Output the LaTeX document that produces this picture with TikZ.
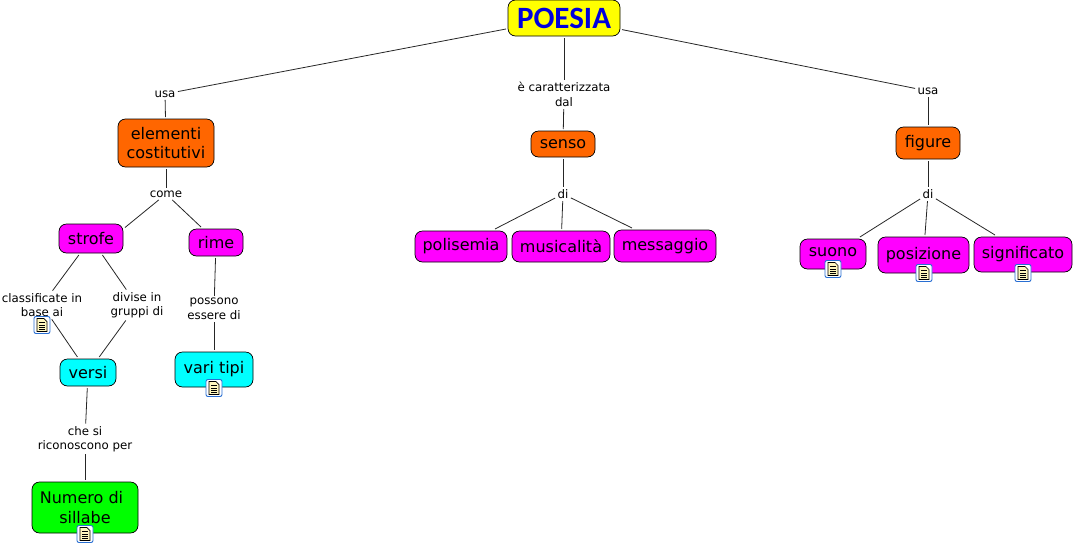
\documentclass[tikz,border=0pt]{standalone}
\usepackage{fontspec}
\setmainfont{DejaVu Sans}
\newfontfamily\titlefont{Carlito}
\usepackage{xcolor}
\usetikzlibrary{arrows.meta,calc,positioning,shapes.geometric}
\definecolor{magentabox}{RGB}{255,0,255}
\definecolor{orangebox}{RGB}{255,102,0}
\definecolor{cyanbox}{RGB}{0,255,255}
\definecolor{greenbox}{RGB}{0,255,0}
\definecolor{yellowbox}{RGB}{255,255,0}
\definecolor{titleblue}{RGB}{0,0,220}
\definecolor{iconblue}{RGB}{40,110,210}
\definecolor{iconpaper}{RGB}{255,247,190}
\newcommand{\liftup}[2][3pt]{\raisebox{#1}{#2}}

\begin{document}
\begin{tikzpicture}[
  x=1pt,y=-1pt,
  concept/.style={draw=black,rounded corners=7.5pt,line width=0.7pt,align=center,inner sep=0pt,outer sep=2pt,
    font=\fontsize{16}{19.5}\selectfont},
  magentaconcept/.style={concept,fill=magentabox},
  orangeconcept/.style={concept,fill=orangebox},
  cyanconcept/.style={concept,fill=cyanbox},
  greenconcept/.style={concept,fill=greenbox},
  link/.style={align=center,inner sep=0pt,outer sep=2.5pt,font=\fontsize{11.8}{14.5}\selectfont},
  edge/.style={draw=black!85,line width=0.8pt},
  noteicon/.pic={
    \draw[draw=iconblue,fill=white,rounded corners=2pt,line width=0.9pt] (-8,-8.5) rectangle (8,8.5);
    \draw[draw=black,fill=iconpaper,line width=0.7pt] (-5,-6.5) -- (2,-6.5) -- (5,-3.5) -- (5,6.5) -- (-5,6.5) -- cycle;
    \foreach \yline in {-2.5,0,2.5,4.5}
      \draw[black,line width=0.7pt] (-3,\yline) -- (3,\yline);
  }
]
  \useasboundingbox (0,0) rectangle (1074,547);

  \node[concept,fill=yellowbox,minimum width=112pt,minimum height=36pt,text=titleblue,font=\titlefont\bfseries\fontsize{31}{34}\selectfont] (poesia) at (564,18) {POESIA};

  \node[link] (usaleft) at (165,94) {usa};
  \node[link] (dal) at (564,94.5) {è caratterizzata\\dal};
  \node[link] (usaright) at (928,91) {usa};

  \node[orangeconcept,minimum width=96pt,minimum height=48pt] (elementi) at (166,143) {elementi\\costitutivi};
  \node[orangeconcept,minimum width=64pt,minimum height=26pt] (senso) at (563,144) {senso};
  \node[orangeconcept,minimum width=64pt,minimum height=32pt] (figure) at (928,143) {figure};

  \node[link] (come) at (166,194) {come};
  \node[link] (disenso) at (563,194) {di};
  \node[link] (difigure) at (928,194) {di};

  \node[magentaconcept,minimum width=64pt,minimum height=29pt] (strofe) at (91,238.5) {strofe};
  \node[magentaconcept,minimum width=54pt,minimum height=27pt] (rime) at (216,242.5) {rime};
  \node[magentaconcept,minimum width=92pt,minimum height=31pt] (polisemia) at (461,246.5) {polisemia};
  \node[magentaconcept,minimum width=98pt,minimum height=31pt] (musicalita) at (561,246.5) {musicalità};
  \node[magentaconcept,minimum width=102pt,minimum height=32pt] (messaggio) at (665,246) {messaggio};
  \node[magentaconcept,minimum width=66pt,minimum height=30pt] (suono) at (833,254) {\liftup{suono}};
  \node[magentaconcept,minimum width=91pt,minimum height=36pt] (posizione) at (923.5,255) {\liftup[4pt]{posizione}};
  \node[magentaconcept,minimum width=98pt,minimum height=35pt] (significato) at (1023,254.5) {\liftup[4pt]{significato}};

  \node[link] (classificate) at (42,305) {classificate in\\base ai};
  \node[link] (divise) at (137,305) {divise in\\gruppi di};
  \node[link] (possono) at (214,309) {possono\\essere di};

  \node[cyanconcept,minimum width=56pt,minimum height=27pt] (versi) at (88,372.5) {versi};
  \node[cyanconcept,minimum width=78pt,minimum height=35pt] (tipi) at (214,369.5) {\liftup{vari tipi}};

  \node[link] (riconoscono) at (85,439) {che si\\riconoscono per};
  \node[greenconcept,minimum width=106pt,minimum height=51pt] (sillabe) at (85,507.5) {Numero di\hspace*{7pt}\\sillabe};

  \draw[edge] (poesia) -- (usaleft);
  \draw[edge] (usaleft) -- (elementi);
  \draw[edge] (poesia) -- (dal);
  \draw[edge] (dal) -- (senso);
  \draw[edge] (poesia) -- (usaright);
  \draw[edge] (usaright) -- (figure);
  \draw[edge] (elementi) -- (come);
  \draw[edge] (come) -- ([yshift=11pt]strofe.east);
  \draw[edge] (come) -- ([xshift=-15pt]rime.north);
  \draw[edge] (senso) -- (disenso);
  \draw[edge] (disenso) -- (polisemia);
  \draw[edge] (disenso) -- (musicalita);
  \draw[edge] (disenso) -- ([xshift=-33pt]messaggio.north);
  \draw[edge] (figure) -- (difigure);
  \draw[edge] (difigure) -- (suono);
  \draw[edge] (difigure) -- (posizione);
  \draw[edge] (difigure) -- ([xshift=-28pt]significato.north);
  \draw[edge] (strofe) -- (classificate);
  \draw[edge] (classificate) -- (versi);
  \draw[edge] (strofe) -- (divise);
  \draw[edge] (divise) -- (versi);
  \draw[edge] (rime) -- (possono);
  \draw[edge] (possono) -- (tipi);
  \draw[edge] (versi) -- (riconoscono);
  \draw[edge] (riconoscono) -- (sillabe);

  \pic at (42,325) {noteicon};
  \pic at (214,388) {noteicon};
  \pic at (85,534) {noteicon};
  \pic at (833,269) {noteicon};
  \pic at (924,273) {noteicon};
  \pic at (1023,273) {noteicon};
\end{tikzpicture}
\end{document}
